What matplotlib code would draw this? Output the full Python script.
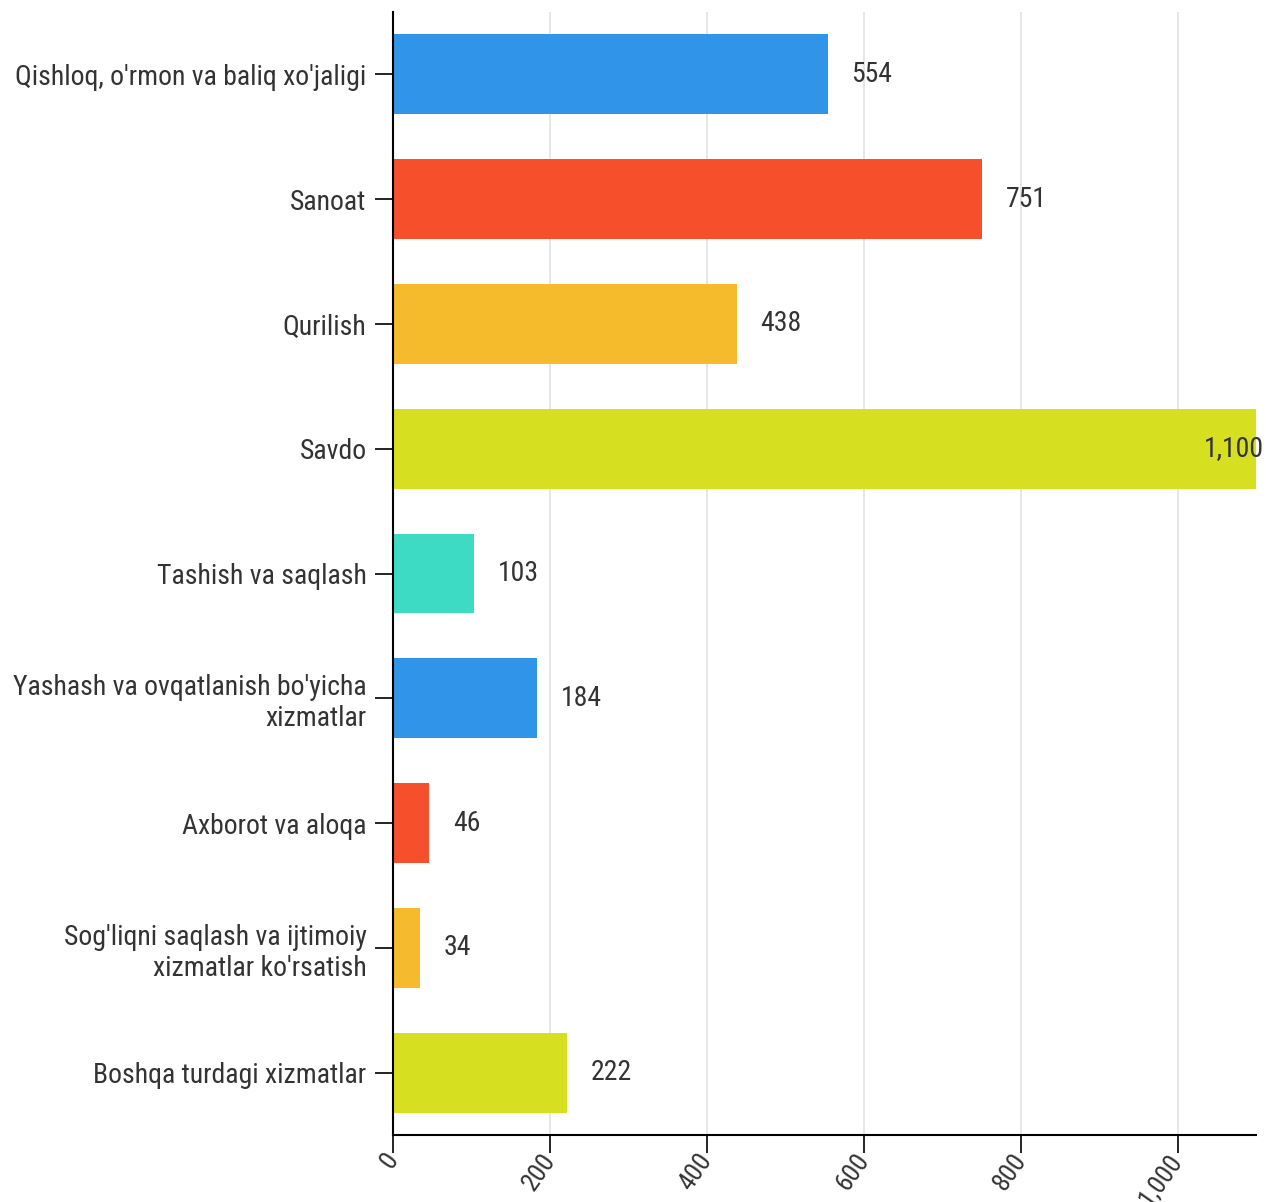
import matplotlib.pyplot as plt
from matplotlib.ticker import FuncFormatter

plt.rcParams["font.family"] = ["Roboto Condensed", "Liberation Sans Narrow", "Roboto", "DejaVu Sans"]

# ── Dados ─────────────────────────────────────────────────────────────── #
categories = [
    "Qishloq, o'rmon va baliq xo'jaligi",
    "Sanoat",
    "Qurilish",
    "Savdo",
    "Tashish va saqlash",
    "Yashash va ovqatlanish bo'yicha\nxizmatlar",
    "Axborot va aloqa",
    "Sog'liqni saqlash va ijtimoiy\nxizmatlar ko'rsatish",
    "Boshqa turdagi xizmatlar",
]
values = [554, 751, 438, 1100, 103, 184, 46, 34, 222]
colors = ["#3095E9", "#F5502B", "#F6BA2D", "#D6E021", "#3DDBC3",
          "#3095E9", "#F5502B", "#F6BA2D", "#D6E021"]
xticks = [0, 200, 400, 600, 800, 1000]

TEXT = "#333333"

fig = plt.figure(figsize=(12.66, 12.02), dpi=100)
ax = fig.add_axes([393 / 1266, 1 - 1135 / 1202, (1256 - 393) / 1266, (1135 - 12) / 1202])

y = list(range(len(categories)))
ax.barh(y, values, height=0.64, color=colors, zorder=2)

ax.set_ylim(len(categories) - 0.5, -0.5)
ax.set_xlim(0, 1100)
ax.set_yticks(y)
ax.set_yticklabels(categories, fontsize=20, color=TEXT)
ax.set_xticks(xticks)
ax.xaxis.set_major_formatter(FuncFormatter(lambda v, _: f"{int(v):,}"))
for lbl in ax.get_xticklabels():
    lbl.set_rotation(55)
    lbl.set_ha("right")
    lbl.set_va("center")
    lbl.set_rotation_mode("anchor")
    lbl.set_fontsize(19)
    lbl.set_color(TEXT)

ax.grid(axis="x", color="#e3e3e3", linewidth=1.2, zorder=0)
for s in ("top", "right"):
    ax.spines[s].set_visible(False)
ax.spines["left"].set_color("black")
ax.spines["bottom"].set_color("black")
ax.spines["left"].set_linewidth(1.5)
ax.spines["bottom"].set_linewidth(1.5)
ax.tick_params(axis="y", length=13, width=1.2, pad=6)
ax.tick_params(axis="x", length=13, width=1.2, pad=2)

vmax = max(values)
for yi, v in zip(y, values):
    if v == vmax:
        ax.annotate(f"{v:,}", (v, yi), xytext=(6, 0), textcoords="offset points",
                    ha="right", va="center", fontsize=20, color=TEXT, annotation_clip=False)
    else:
        ax.annotate(f"{v:,}", (v, yi), xytext=(17, 0), textcoords="offset points",
                    ha="left", va="center", fontsize=20, color=TEXT)

fig.savefig("out.png", dpi=100)
